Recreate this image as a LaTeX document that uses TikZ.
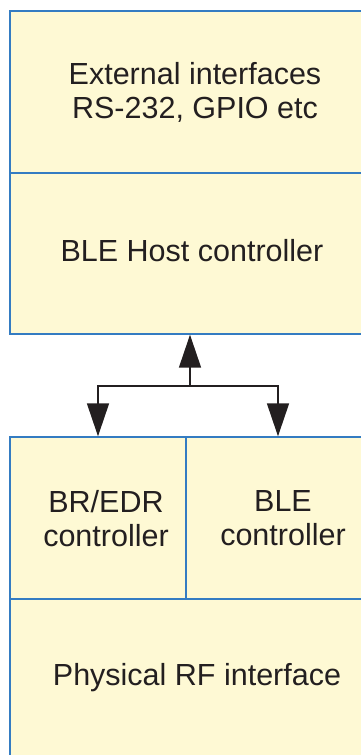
\documentclass[tikz,border=0pt]{standalone}
\usepackage{fontspec}
\setmainfont{Liberation Sans}
\usetikzlibrary{arrows.meta,calc}
\definecolor{boxfill}{RGB}{254,249,212}
\definecolor{boxline}{RGB}{52,124,194}
\definecolor{ink}{RGB}{35,31,32}
\begin{document}
\begin{tikzpicture}[x=1pt,y=-1pt,
  box/.style={draw=boxline, fill=boxfill, line width=1.4pt, rectangle, inner sep=0pt},
  label text/.style={text=ink, align=center, inner sep=0pt, font=\fontsize{30.5}{34}\selectfont},
  conn/.style={draw=ink, line width=1.5pt, -{Triangle[length=33pt,width=22pt]}}]
\useasboundingbox (0,0) rectangle (361,755);
\clip (0,0) rectangle (361,755);
% boxes
\node[box, minimum width=370pt, minimum height=162pt] (ext) at (195,92) {};
\node[box, minimum width=370pt, minimum height=161pt] (host) at (195,253.5) {};
\node[box, minimum width=176pt, minimum height=162pt] (br) at (98,518) {};
\node[box, minimum width=194pt, minimum height=162pt] (ble) at (283,518) {};
\node[box, minimum width=370pt, minimum height=170pt] (phy) at (195,684) {};
% texts
\node[label text] (exttext) at (195,92.5) {External interfaces\\RS-232, GPIO etc};
\node[label text, anchor=base] (hosttext) at (192,261) {BLE Host controller};
\node[label text] (brtext) at (106,518.5) {BR/EDR\\controller};
\node[label text] (bletext) at (283,518.5) {BLE\\controller};
\node[label text, anchor=base] (phytext) at (197,685) {Physical RF interface};
% connectors
\coordinate (hub) at (190,386);
\draw[conn] (hub) -- (hub |- host.south);
\draw[conn] (hub) -| (br.north);
\draw[conn] (hub) -| ($(ble.north)+(-5,0)$);
\end{tikzpicture}
\end{document}
